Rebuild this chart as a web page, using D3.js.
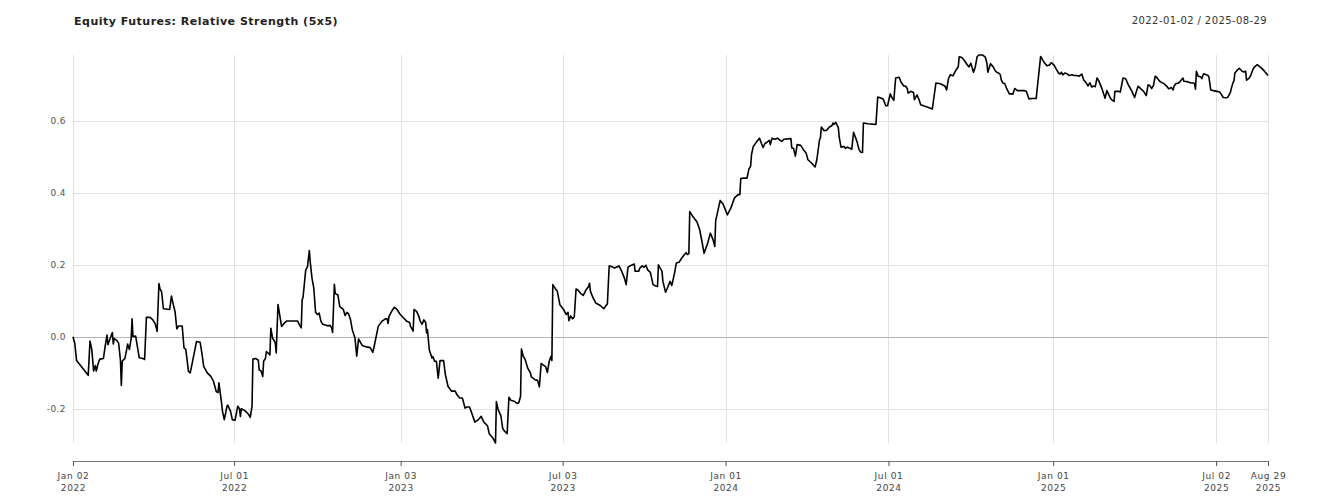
<!DOCTYPE html>
<html>
<head>
<meta charset="utf-8">
<script src="https://cdn.jsdelivr.net/npm/d3@7"></script>
<style>
  html, body { margin: 0; padding: 0; background: #fff; }
  svg { display: block; font-family: "DejaVu Sans", Verdana, sans-serif; }
</style>
</head>
<body>
<svg id="chart" width="1341" height="500"></svg>
<script>
const title = "Equity Futures: Relative Strength (5x5)";
const rangeLabel = "2022-01-02 / 2025-08-29";

const dates = [
"2022-01-02","2022-01-04","2022-01-06","2022-01-19","2022-01-21","2022-01-23","2022-01-25","2022-01-27","2022-01-28","2022-01-30",
"2022-02-01","2022-02-05","2022-02-07","2022-02-09","2022-02-10","2022-02-12","2022-02-15","2022-02-16","2022-02-17","2022-02-20",
"2022-02-22","2022-02-24","2022-02-25","2022-02-26","2022-03-01","2022-03-03","2022-03-04","2022-03-06","2022-03-08","2022-03-09",
"2022-03-10","2022-03-13","2022-03-17","2022-03-21","2022-03-23","2022-03-25","2022-03-29","2022-04-01","2022-04-04","2022-04-06",
"2022-04-08","2022-04-09","2022-04-11","2022-04-13","2022-04-20","2022-04-22","2022-04-24","2022-04-26","2022-04-28","2022-04-30",
"2022-05-04","2022-05-06","2022-05-08","2022-05-11","2022-05-13","2022-05-17","2022-05-20","2022-05-24","2022-05-26","2022-05-28",
"2022-06-01","2022-06-05","2022-06-08","2022-06-11","2022-06-13","2022-06-14","2022-06-17","2022-06-18","2022-06-20","2022-06-23",
"2022-06-24","2022-06-27","2022-06-29","2022-07-02","2022-07-05","2022-07-07","2022-07-08","2022-07-09","2022-07-13","2022-07-17",
"2022-07-19","2022-07-21","2022-07-22","2022-07-25","2022-07-28","2022-07-29","2022-07-31","2022-08-02","2022-08-03","2022-08-05",
"2022-08-06","2022-08-08","2022-08-10","2022-08-11","2022-08-13","2022-08-14","2022-08-16","2022-08-17","2022-08-19","2022-08-20",
"2022-08-23","2022-08-26","2022-08-29","2022-09-10","2022-09-12","2022-09-14","2022-09-15","2022-09-16","2022-09-19","2022-09-21",
"2022-09-23","2022-09-24","2022-09-26","2022-09-28","2022-09-30","2022-10-02","2022-10-04","2022-10-06","2022-10-08","2022-10-12",
"2022-10-14","2022-10-16","2022-10-18","2022-10-19","2022-10-21","2022-10-22","2022-10-25","2022-10-27","2022-10-31","2022-11-02",
"2022-11-04","2022-11-06","2022-11-08","2022-11-10","2022-11-13","2022-11-15","2022-11-17","2022-11-21","2022-11-26","2022-11-30",
"2022-12-03","2022-12-05","2022-12-09","2022-12-13","2022-12-17","2022-12-19","2022-12-20","2022-12-21","2022-12-24","2022-12-27",
"2022-12-30","2023-01-02","2023-01-06","2023-01-10","2023-01-13","2023-01-14","2023-01-17","2023-01-18","2023-01-21","2023-01-23",
"2023-01-25","2023-01-27","2023-01-29","2023-01-31","2023-02-01","2023-02-02","2023-02-04","2023-02-07","2023-02-08","2023-02-10",
"2023-02-12","2023-02-14","2023-02-16","2023-02-20","2023-02-22","2023-02-25","2023-03-01","2023-03-05","2023-03-07","2023-03-10",
"2023-03-13","2023-03-16","2023-03-18","2023-03-21","2023-03-24","2023-03-27","2023-03-31","2023-04-03","2023-04-06","2023-04-10",
"2023-04-12","2023-04-16","2023-04-19","2023-04-20","2023-04-22","2023-04-25","2023-04-27","2023-04-29","2023-05-02","2023-05-04",
"2023-05-06","2023-05-10","2023-05-13","2023-05-15","2023-05-17","2023-05-18","2023-05-20","2023-05-22","2023-05-25","2023-05-28",
"2023-05-29","2023-06-02","2023-06-05","2023-06-07","2023-06-09","2023-06-11","2023-06-14","2023-06-16","2023-06-18","2023-06-20",
"2023-06-21","2023-06-22","2023-06-25","2023-06-27","2023-06-30","2023-07-04","2023-07-07","2023-07-09","2023-07-10","2023-07-12",
"2023-07-14","2023-07-16","2023-07-18","2023-07-20","2023-07-23","2023-07-26","2023-07-29","2023-08-01","2023-08-02","2023-08-03",
"2023-08-06","2023-08-09","2023-08-14","2023-08-18","2023-08-22","2023-08-24","2023-08-27","2023-08-30","2023-09-04","2023-09-07",
"2023-09-10","2023-09-12","2023-09-14","2023-09-16","2023-09-21","2023-09-22","2023-09-26","2023-09-27","2023-09-30","2023-10-02",
"2023-10-04","2023-10-06","2023-10-09","2023-10-10","2023-10-12","2023-10-15","2023-10-17","2023-10-18","2023-10-22","2023-10-23",
"2023-10-26","2023-10-28","2023-10-31","2023-11-02","2023-11-05","2023-11-07","2023-11-10","2023-11-13","2023-11-16","2023-11-18",
"2023-11-19","2023-11-21","2023-11-22","2023-11-25","2023-11-30","2023-12-03","2023-12-06","2023-12-08","2023-12-12","2023-12-15",
"2023-12-18","2023-12-20","2023-12-21","2023-12-26","2023-12-29","2024-01-03","2024-01-07","2024-01-11","2024-01-15","2024-01-17",
"2024-01-18","2024-01-21","2024-01-25","2024-01-27","2024-01-29","2024-01-30","2024-02-01","2024-02-05","2024-02-08","2024-02-10",
"2024-02-12","2024-02-14","2024-02-16","2024-02-19","2024-02-20","2024-02-22","2024-02-25","2024-02-28","2024-03-02","2024-03-04",
"2024-03-06","2024-03-11","2024-03-14","2024-03-15","2024-03-17","2024-03-19","2024-03-21","2024-03-25","2024-03-28","2024-03-31",
"2024-04-02","2024-04-06","2024-04-10","2024-04-12","2024-04-15","2024-04-16","2024-04-17","2024-04-20","2024-04-23","2024-04-26",
"2024-04-29","2024-04-30","2024-05-01","2024-05-03","2024-05-06","2024-05-07","2024-05-09","2024-05-12","2024-05-14","2024-05-16",
"2024-05-19","2024-05-21","2024-05-23","2024-05-25","2024-05-27","2024-05-29","2024-05-31","2024-06-02","2024-06-03","2024-06-08",
"2024-06-13","2024-06-17","2024-06-19","2024-06-21","2024-06-25","2024-06-28","2024-06-30","2024-07-03","2024-07-05","2024-07-07",
"2024-07-09","2024-07-13","2024-07-15","2024-07-18","2024-07-20","2024-07-22","2024-07-23","2024-07-26","2024-07-29","2024-07-30",
"2024-08-02","2024-08-04","2024-08-06","2024-08-10","2024-08-14","2024-08-19","2024-08-23","2024-08-28","2024-09-02","2024-09-04",
"2024-09-06","2024-09-08","2024-09-11","2024-09-13","2024-09-16","2024-09-17","2024-09-18","2024-09-21","2024-09-24","2024-09-27",
"2024-09-29","2024-10-01","2024-10-04","2024-10-06","2024-10-08","2024-10-10","2024-10-14","2024-10-17","2024-10-19","2024-10-20",
"2024-10-23","2024-10-26","2024-10-28","2024-10-30","2024-11-01","2024-11-03","2024-11-04","2024-11-06","2024-11-08","2024-11-10",
"2024-11-13","2024-11-16","2024-11-17","2024-11-19","2024-11-22","2024-11-25","2024-11-30","2024-12-02","2024-12-05","2024-12-08",
"2024-12-13","2024-12-18","2024-12-22","2024-12-25","2024-12-28","2024-12-30","2025-01-02","2025-01-04","2025-01-07","2025-01-09",
"2025-01-10","2025-01-12","2025-01-14","2025-01-17","2025-01-19","2025-01-22","2025-01-24","2025-01-27","2025-01-30","2025-02-02",
"2025-02-04","2025-02-07","2025-02-09","2025-02-11","2025-02-13","2025-02-15","2025-02-17","2025-02-19","2025-02-21","2025-02-25",
"2025-02-28","2025-03-02","2025-03-05","2025-03-07","2025-03-10","2025-03-11","2025-03-15","2025-03-17","2025-03-20","2025-03-23",
"2025-03-26","2025-03-30","2025-04-02","2025-04-04","2025-04-06","2025-04-09","2025-04-12","2025-04-15","2025-04-17","2025-04-19",
"2025-04-21","2025-04-23","2025-04-25","2025-04-27","2025-04-30","2025-05-02","2025-05-05","2025-05-08","2025-05-10","2025-05-11",
"2025-05-13","2025-05-15","2025-05-16","2025-05-18","2025-05-21","2025-05-23","2025-05-26","2025-05-27","2025-05-31","2025-06-04",
"2025-06-07","2025-06-08","2025-06-09","2025-06-10","2025-06-12","2025-06-15","2025-06-16","2025-06-18","2025-06-21","2025-06-23",
"2025-06-24","2025-06-26","2025-06-29","2025-07-03","2025-07-06","2025-07-07","2025-07-10","2025-07-13","2025-07-15","2025-07-18",
"2025-07-19","2025-07-21","2025-07-22","2025-07-23","2025-07-26","2025-07-28","2025-07-31","2025-08-02","2025-08-04","2025-08-05",
"2025-08-08","2025-08-10","2025-08-12","2025-08-14","2025-08-17","2025-08-19","2025-08-22","2025-08-24","2025-08-26","2025-08-29"
];

const values = [
0.000,-0.018,-0.066,-0.107,-0.012,-0.035,-0.095,-0.080,-0.095,-0.075,
-0.062,-0.060,-0.025,0.005,-0.022,-0.008,0.012,-0.020,-0.005,-0.010,
-0.018,-0.065,-0.135,-0.068,-0.060,-0.035,-0.020,-0.035,-0.005,0.050,
0.000,0.002,-0.058,-0.060,-0.063,0.054,0.054,0.048,0.035,0.015,
0.148,0.135,0.125,0.078,0.076,0.113,0.090,0.070,0.022,0.030,
0.030,-0.031,-0.035,-0.096,-0.100,-0.050,-0.013,-0.015,-0.045,-0.082,
-0.100,-0.110,-0.124,-0.152,-0.155,-0.128,-0.184,-0.207,-0.230,-0.193,
-0.190,-0.207,-0.230,-0.232,-0.193,-0.200,-0.221,-0.200,-0.205,-0.215,
-0.224,-0.193,-0.062,-0.060,-0.065,-0.092,-0.094,-0.110,-0.067,-0.060,
-0.041,-0.045,-0.050,0.024,-0.004,-0.008,-0.017,-0.045,0.090,0.075,
0.029,0.038,0.044,0.044,0.033,0.025,0.103,0.110,0.186,0.195,
0.240,0.209,0.163,0.135,0.068,0.062,0.066,0.043,0.035,0.032,
0.030,0.032,0.025,0.012,0.146,0.120,0.116,0.084,0.076,0.059,
0.068,0.063,0.048,0.020,-0.003,-0.054,-0.006,-0.024,-0.028,-0.030,
-0.043,-0.020,0.029,0.043,0.050,0.050,0.037,0.057,0.071,0.082,
0.076,0.064,0.053,0.043,0.040,0.030,0.016,0.076,0.070,0.059,
0.043,0.035,0.047,0.040,0.011,0.020,-0.036,-0.059,-0.055,-0.068,
-0.068,-0.115,-0.066,-0.066,-0.105,-0.138,-0.151,-0.151,-0.161,-0.170,
-0.170,-0.198,-0.195,-0.195,-0.216,-0.237,-0.230,-0.221,-0.237,-0.247,
-0.269,-0.281,-0.295,-0.180,-0.203,-0.219,-0.254,-0.262,-0.269,-0.168,
-0.176,-0.179,-0.185,-0.183,-0.165,-0.034,-0.054,-0.062,-0.087,-0.100,
-0.111,-0.119,-0.121,-0.139,-0.074,-0.078,-0.083,-0.099,-0.068,-0.054,
-0.066,0.145,0.133,0.127,0.089,0.076,0.062,0.068,0.045,0.058,
0.050,0.055,0.133,0.130,0.121,0.115,0.130,0.140,0.149,0.127,
0.108,0.094,0.087,0.078,0.092,0.197,0.195,0.191,0.197,0.182,
0.163,0.145,0.193,0.197,0.202,0.182,0.182,0.190,0.197,0.193,
0.199,0.186,0.179,0.168,0.145,0.141,0.140,0.200,0.182,0.154,
0.124,0.135,0.154,0.143,0.177,0.205,0.207,0.219,0.228,0.234,
0.229,0.231,0.348,0.336,0.320,0.299,0.260,0.232,0.260,0.288,
0.270,0.251,0.323,0.379,0.370,0.339,0.358,0.386,0.395,0.395,
0.440,0.441,0.441,0.465,0.474,0.506,0.529,0.543,0.552,0.538,
0.526,0.537,0.540,0.546,0.534,0.552,0.549,0.552,0.546,0.543,
0.549,0.550,0.551,0.525,0.523,0.502,0.534,0.532,0.520,0.511,
0.492,0.483,0.472,0.492,0.548,0.552,0.583,0.573,0.574,0.583,
0.587,0.594,0.590,0.596,0.581,0.555,0.527,0.529,0.524,0.527,
0.524,0.521,0.568,0.555,0.541,0.521,0.513,0.512,0.594,0.592,
0.591,0.590,0.666,0.665,0.661,0.642,0.642,0.675,0.664,0.657,
0.719,0.721,0.708,0.697,0.697,0.690,0.677,0.682,0.679,0.659,
0.672,0.660,0.645,0.641,0.638,0.633,0.705,0.703,0.697,0.686,
0.717,0.728,0.725,0.735,0.747,0.750,0.778,0.776,0.767,0.756,
0.750,0.760,0.735,0.750,0.778,0.783,0.783,0.778,0.760,0.735,
0.759,0.750,0.740,0.735,0.733,0.728,0.714,0.705,0.703,0.690,
0.675,0.675,0.674,0.690,0.684,0.684,0.684,0.682,0.661,0.662,
0.662,0.779,0.762,0.753,0.755,0.762,0.755,0.746,0.733,0.730,
0.735,0.728,0.733,0.730,0.726,0.728,0.726,0.726,0.724,0.730,
0.714,0.705,0.697,0.706,0.694,0.697,0.695,0.719,0.711,0.686,
0.663,0.684,0.668,0.659,0.654,0.682,0.682,0.680,0.719,0.717,
0.700,0.682,0.665,0.682,0.696,0.689,0.682,0.670,0.700,0.698,
0.690,0.698,0.724,0.720,0.710,0.707,0.703,0.696,0.689,0.690,
0.693,0.686,0.696,0.703,0.705,0.710,0.719,0.710,0.709,0.705,
0.705,0.703,0.688,0.738,0.724,0.722,0.717,0.731,0.728,0.726,
0.722,0.686,0.684,0.682,0.680,0.677,0.665,0.664,0.665,0.679,
0.690,0.707,0.711,0.733,0.742,0.746,0.738,0.736,0.738,0.713,
0.719,0.728,0.742,0.750,0.756,0.752,0.746,0.741,0.735,0.726
];

const xTickDates = ["2022-01-02","2022-07-01","2023-01-03","2023-07-03","2024-01-01","2024-07-01","2025-01-01","2025-07-02","2025-08-29"];
const yTickValues = [-0.2, 0.0, 0.2, 0.4, 0.6];

const parse = d3.utcParse("%Y-%m-%d");
const data = dates.map((d, i) => ({ date: parse(d), value: values[i] }));

const svg = d3.select("#chart");
const plotLeft = 73, plotRight = 1268, plotTop = 55, plotBottom = 443, axisY = 461;

const x = d3.scaleUtc()
  .domain(d3.extent(data, d => d.date))
  .range([plotLeft, plotRight]);
const y = d3.scaleLinear()
  .domain(d3.extent(data, d => d.value))
  .range([plotBottom, plotTop]);

const xt = xTickDates.map(parse);

// grid
const grid = svg.append("g");
grid.selectAll(".vg").data(xt).enter().append("line")
  .attr("x1", d => Math.round(x(d)) + 0.5).attr("x2", d => Math.round(x(d)) + 0.5)
  .attr("y1", plotTop).attr("y2", plotBottom)
  .attr("stroke", "#e2e2e2").attr("stroke-width", 1);
grid.selectAll(".hg").data(yTickValues).enter().append("line")
  .attr("x1", plotLeft).attr("x2", plotRight)
  .attr("y1", d => Math.round(y(d)) + 0.5).attr("y2", d => Math.round(y(d)) + 0.5)
  .attr("stroke", d => d === 0 ? "#b4b4b4" : "#e2e2e2").attr("stroke-width", 1);

// y labels
svg.append("g").selectAll("text").data(yTickValues).enter().append("text")
  .attr("x", 66).attr("y", d => y(d))
  .attr("dy", "0.35em")
  .attr("text-anchor", "end")
  .attr("font-size", 9).attr("letter-spacing", 0.4)
  .attr("fill", "#555")
  .text(d => d3.format(".1f")(d).replace("\u2212", "-"));

// x axis
const xAxis = d3.axisBottom(x).tickValues(xt).tickSize(5).tickFormat(() => "");
const gx = svg.append("g").attr("transform", `translate(0,${axisY})`).call(xAxis);
gx.select(".domain").attr("stroke", "#777");
gx.selectAll(".tick line").attr("stroke", "#555");
const fmtMD = d3.utcFormat("%b %d"), fmtY = d3.utcFormat("%Y");
gx.selectAll(".tick").each(function(d) {
  const t = d3.select(this).select("text")
    .attr("y", 0).attr("dy", null)
    .attr("font-family", "DejaVu Sans, sans-serif")
    .attr("font-size", 9).attr("letter-spacing", 0.6).attr("fill", "#444");
  t.text(null);
  t.append("tspan").attr("x", 0).attr("y", 18).text(fmtMD(d));
  t.append("tspan").attr("x", 0).attr("y", 30).text(fmtY(d));
});

// line
svg.append("path").datum(data)
  .attr("fill", "none").attr("stroke", "#000").attr("stroke-width", 1.6)
  .attr("stroke-linejoin", "round")
  .attr("d", d3.line().x(d => x(d.date)).y(d => y(d.value)));

// titles
svg.append("text").attr("x", 74).attr("y", 25)
  .attr("font-size", 11).attr("font-weight", "bold").attr("letter-spacing", 0.5)
  .attr("fill", "#222").text(title);
svg.append("text").attr("x", 1267).attr("y", 24)
  .attr("text-anchor", "end")
  .attr("font-size", 10).attr("letter-spacing", 0.4)
  .attr("fill", "#333").text(rangeLabel);
</script>
</body>
</html>
